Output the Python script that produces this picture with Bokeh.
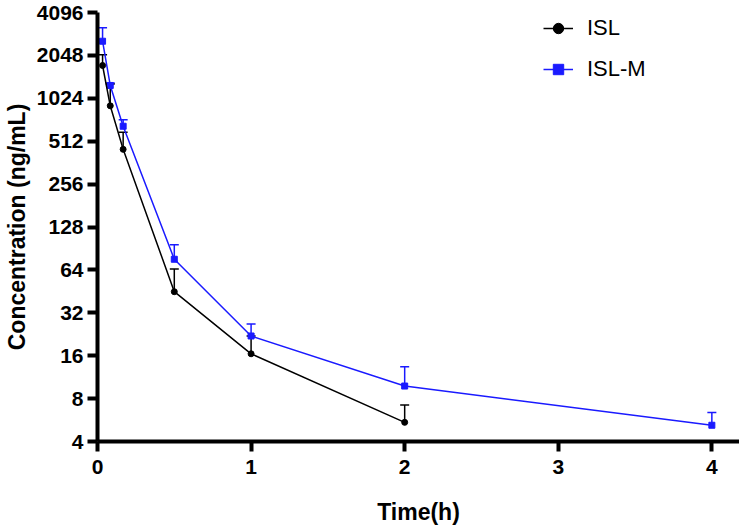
from bokeh.plotting import figure
from bokeh.models import (Range1d, FixedTicker, NumeralTickFormatter, Whisker, TeeHead,
                          ColumnDataSource, Legend, LegendItem)
from bokeh.embed import file_html
from bokeh.resources import INLINE

# ---- data ----
time_isl = [0.033, 0.083, 0.167, 0.5, 1, 2]
conc_isl = [1740, 907, 449, 45, 16.5, 5.45]
upper_isl = [2070, 1290, 592, 65, 22, 7.2]

time_islm = [0.033, 0.083, 0.167, 0.5, 1, 2, 4]
conc_islm = [2575, 1260, 652, 76, 22, 9.8, 5.2]
upper_islm = [3200, 1310, 724, 96, 26.7, 13.4, 6.4]

y_ticks = [4, 8, 16, 32, 64, 128, 256, 512, 1024, 2048, 4096]
x_ticks = [0, 1, 2, 3, 4]

FONT = "Liberation Sans"

p = figure(width=734, height=513, output_backend="svg", toolbar_location=None,
           y_axis_type="log", x_range=Range1d(0, 4.18), y_range=Range1d(4, 4096),
           frame_width=642, frame_height=429,
           min_border_left=92, min_border_top=12, min_border_bottom=72, min_border_right=0)
p.outline_line_color = None
p.xgrid.visible = False
p.ygrid.visible = False
p.background_fill_color = "white"

src_isl = ColumnDataSource(dict(t=time_isl, c=conc_isl, u=upper_isl))
src_islm = ColumnDataSource(dict(t=time_islm, c=conc_islm, u=upper_islm))

BLUE = "#1a1aff"

# ISL-M (drawn first)
wm = Whisker(source=src_islm, base="t", lower="c", upper="u", dimension="height",
             line_color=BLUE, line_width=1.5,
             upper_head=TeeHead(size=9, line_color=BLUE, line_width=1.5), lower_head=None)
p.add_layout(wm)
lm = p.line("t", "c", source=src_islm, line_color=BLUE, line_width=1.5)
sm = p.scatter("t", "c", source=src_islm, marker="square", size=6, color=BLUE)

# ISL
wi = Whisker(source=src_isl, base="t", lower="c", upper="u", dimension="height",
             line_color="black", line_width=1.5,
             upper_head=TeeHead(size=9, line_color="black", line_width=1.5), lower_head=None)
p.add_layout(wi)
li = p.line("t", "c", source=src_isl, line_color="black", line_width=1.5)
si = p.scatter("t", "c", source=src_isl, marker="circle", size=6, color="black")

# axes
for ax in (p.xaxis[0], p.yaxis[0]):
    ax.axis_line_width = 4
    ax.axis_line_color = "black"
    ax.major_tick_line_width = 4
    ax.major_tick_line_color = "black"
    ax.major_tick_out = 10
    ax.major_tick_in = 0
    ax.minor_tick_line_color = None
    ax.major_label_text_font = FONT
    ax.major_label_text_font_style = "bold"
    ax.major_label_text_font_size = "21px"
    ax.major_label_text_color = "black"
    ax.axis_label_text_font = FONT
    ax.axis_label_text_font_style = "bold"
    ax.axis_label_text_font_size = "23px"
    ax.axis_label_text_color = "black"

p.yaxis.ticker = FixedTicker(ticks=y_ticks)
p.yaxis.formatter = NumeralTickFormatter(format="0")
p.yaxis.major_label_standoff = 4
p.yaxis.axis_label = "Concentration (ng/mL)"
p.yaxis.axis_label_standoff = 4

p.xaxis.ticker = FixedTicker(ticks=x_ticks)
p.xaxis.major_label_standoff = 8
p.xaxis.axis_label = "Time(h)"
p.xaxis.axis_label_standoff = 22

legend = Legend(items=[LegendItem(label="ISL", renderers=[li, si]),
                       LegendItem(label="ISL-M", renderers=[lm, sm])],
                location=(446, 359), border_line_color=None, background_fill_alpha=0,
                padding=0, margin=0, spacing=15, glyph_width=30, glyph_height=26,
                label_height=26, label_standoff=14,
                label_text_font=FONT, label_text_font_size="22px", label_text_color="black")
p.add_layout(legend)

open("out.html", "w").write(file_html(p, INLINE))
